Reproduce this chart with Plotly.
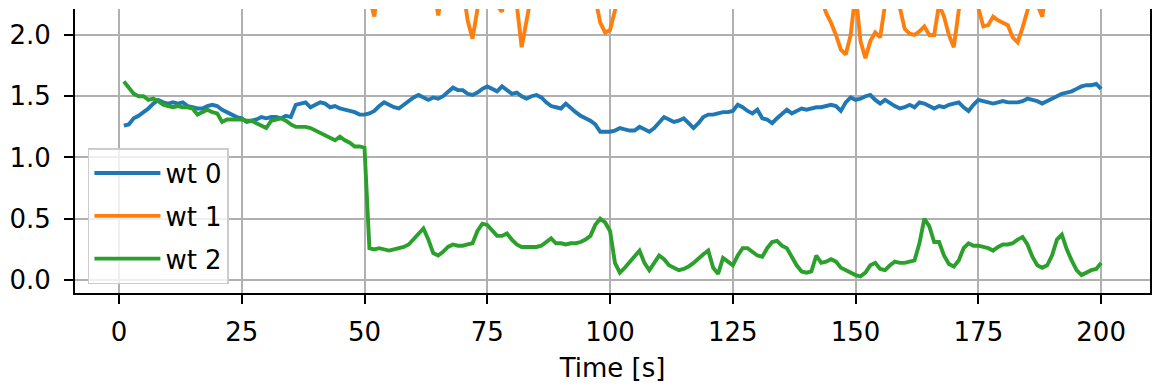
import plotly.graph_objects as go

time_s = list(range(1, 201))

wt0 = [1.26, 1.27, 1.32, 1.34, 1.37, 1.40, 1.44, 1.47, 1.45, 1.44,
       1.45, 1.44, 1.45, 1.42, 1.41, 1.40, 1.40, 1.42, 1.43, 1.42,
       1.39, 1.37, 1.35, 1.33, 1.32, 1.29, 1.30, 1.31, 1.33, 1.32,
       1.33, 1.33, 1.32, 1.34, 1.33, 1.43, 1.44, 1.45, 1.41, 1.43,
       1.45, 1.44, 1.41, 1.42, 1.40, 1.39, 1.38, 1.37, 1.35, 1.35,
       1.36, 1.38, 1.42, 1.45, 1.43, 1.41, 1.40, 1.43, 1.46, 1.49,
       1.51, 1.49, 1.47, 1.49, 1.48, 1.50, 1.54, 1.57, 1.55, 1.55,
       1.52, 1.51, 1.53, 1.56, 1.58, 1.56, 1.54, 1.58, 1.55, 1.52,
       1.53, 1.50, 1.48, 1.50, 1.51, 1.49, 1.45, 1.42, 1.41, 1.40,
       1.44, 1.40, 1.37, 1.34, 1.32, 1.30, 1.27, 1.21, 1.21, 1.21,
       1.22, 1.24, 1.23, 1.22, 1.22, 1.25, 1.23, 1.21, 1.24, 1.28,
       1.33, 1.31, 1.29, 1.30, 1.32, 1.28, 1.24, 1.28, 1.33, 1.35,
       1.35, 1.36, 1.37, 1.37, 1.38, 1.43, 1.41, 1.38, 1.36, 1.39,
       1.32, 1.31, 1.28, 1.32, 1.36, 1.39, 1.36, 1.38, 1.40, 1.39,
       1.40, 1.41, 1.41, 1.42, 1.43, 1.42, 1.38, 1.45, 1.49, 1.47,
       1.48, 1.50, 1.51, 1.47, 1.44, 1.47, 1.44, 1.42, 1.40, 1.41,
       1.43, 1.41, 1.45, 1.44, 1.42, 1.40, 1.42, 1.41, 1.43, 1.44,
       1.45, 1.41, 1.38, 1.43, 1.47, 1.46, 1.45, 1.44, 1.45, 1.46,
       1.45, 1.45, 1.45, 1.46, 1.48, 1.47, 1.46, 1.44, 1.46, 1.48,
       1.50, 1.52, 1.53, 1.54, 1.56, 1.58, 1.59, 1.59, 1.60, 1.56]

wt1 = [2.62, 2.58, 2.71, 2.66, 2.55, 2.60, 2.74, 2.69, 2.57, 2.63,
       2.70, 2.61, 2.54, 2.66, 2.72, 2.59, 2.64, 2.68, 2.56, 2.61,
       2.73, 2.65, 2.58, 2.62, 2.69, 2.60, 2.55, 2.67, 2.71, 2.63,
       2.57, 2.64, 2.70, 2.59, 2.62, 2.68, 2.56, 2.61, 2.66, 2.60,
       2.54, 2.63, 2.69, 2.58, 2.52, 2.60, 2.55, 2.48, 2.45, 2.38,
       2.30, 2.15, 2.50, 2.62, 2.48, 2.55, 2.60, 2.44, 2.52, 2.47,
       2.58, 2.42, 2.36, 2.45, 2.16, 2.40, 2.56, 2.62, 2.48, 2.40,
       2.12, 1.97, 2.20, 2.45, 2.52, 2.38, 2.24, 2.19, 2.42, 2.38,
       2.25, 1.90, 2.15, 2.40, 2.55, 2.62, 2.50, 2.46, 2.58, 2.52,
       2.44, 2.56, 2.60, 2.49, 2.42, 2.35, 2.30, 2.10, 2.02, 2.04,
       2.20, 2.45, 2.58, 2.66, 2.55, 2.61, 2.70, 2.57, 2.63, 2.59,
       2.68, 2.54, 2.62, 2.71, 2.60, 2.56, 2.65, 2.58, 2.52, 2.61,
       2.66, 2.55, 2.60, 2.69, 2.57, 2.63, 2.58, 2.52, 2.60, 2.55,
       2.62, 2.48, 2.56, 2.60, 2.51, 2.45, 2.54, 2.49, 2.42, 2.50,
       2.46, 2.38, 2.30, 2.18, 2.10, 2.00, 1.88, 1.84, 2.00, 2.35,
       1.95, 1.81, 1.95, 2.02, 1.98, 2.25, 2.50, 2.40, 2.22, 2.05,
       2.01, 2.00, 2.03, 2.07, 2.00, 2.00, 2.25, 2.15, 2.00, 1.90,
       2.20, 2.50, 2.48, 2.40, 2.22, 2.07, 2.08, 2.15, 2.12, 2.10,
       2.08, 1.98, 1.94, 2.06, 2.20, 2.40, 2.25, 2.15, 2.40, 2.52,
       2.46, 2.55, 2.60, 2.50, 2.58, 2.62, 2.54, 2.60, 2.57, 2.63]

wt2 = [1.62, 1.57, 1.52, 1.50, 1.50, 1.47, 1.48, 1.46, 1.43, 1.42,
       1.41, 1.42, 1.41, 1.41, 1.40, 1.35, 1.37, 1.39, 1.37, 1.36,
       1.29, 1.31, 1.31, 1.31, 1.31, 1.30, 1.30, 1.28, 1.26, 1.24,
       1.30, 1.31, 1.32, 1.30, 1.27, 1.25, 1.25, 1.25, 1.24, 1.22,
       1.20, 1.18, 1.16, 1.14, 1.17, 1.14, 1.12, 1.09, 1.09, 1.08,
       0.26, 0.25, 0.26, 0.25, 0.24, 0.25, 0.26, 0.27, 0.29, 0.33,
       0.38, 0.42, 0.33, 0.22, 0.20, 0.23, 0.27, 0.29, 0.28, 0.28,
       0.29, 0.30, 0.40, 0.46, 0.45, 0.40, 0.36, 0.36, 0.38, 0.33,
       0.29, 0.27, 0.27, 0.27, 0.27, 0.28, 0.31, 0.34, 0.30, 0.30,
       0.29, 0.30, 0.30, 0.31, 0.33, 0.36, 0.45, 0.50, 0.47, 0.40,
       0.14, 0.06, 0.10, 0.15, 0.20, 0.24, 0.14, 0.08, 0.14, 0.20,
       0.17, 0.12, 0.10, 0.08, 0.09, 0.11, 0.14, 0.18, 0.21, 0.24,
       0.10, 0.05, 0.18, 0.15, 0.12, 0.20, 0.26, 0.26, 0.23, 0.20,
       0.19, 0.26, 0.31, 0.32, 0.28, 0.26, 0.19, 0.12, 0.07, 0.06,
       0.07, 0.20, 0.14, 0.15, 0.17, 0.15, 0.10, 0.08, 0.06, 0.04,
       0.03, 0.06, 0.12, 0.14, 0.09, 0.08, 0.12, 0.15, 0.14, 0.14,
       0.15, 0.16, 0.30, 0.50, 0.44, 0.31, 0.31, 0.20, 0.13, 0.11,
       0.16, 0.26, 0.30, 0.28, 0.28, 0.27, 0.26, 0.24, 0.27, 0.29,
       0.29, 0.30, 0.33, 0.35, 0.29, 0.19, 0.12, 0.10, 0.12, 0.20,
       0.33, 0.37, 0.25, 0.16, 0.08, 0.04, 0.06, 0.08, 0.09, 0.14]

series_names = ["wt 0", "wt 1", "wt 2"]
series_values = [wt0, wt1, wt2]
colors = ["#1f77b4", "#ff7f0e", "#2ca02c"]

x_ticks = [0, 25, 50, 75, 100, 125, 150, 175, 200]
y_ticks = [0.0, 0.5, 1.0, 1.5, 2.0]
y_tick_labels = ["0.0", "0.5", "1.0", "1.5", "2.0"]

FONT = "DejaVu Sans"
FS = 26

fig = go.Figure()
for name, vals, col in zip(series_names, series_values, colors):
    fig.add_trace(go.Scatter(
        x=time_s, y=vals, mode="lines", name=name, legendgroup=name,
        line=dict(color=col, width=3.9),
    ))

axis_common = dict(
    showgrid=True, gridcolor="#b0b0b0", gridwidth=2,
    zeroline=False, showline=True, linecolor="black", linewidth=2,
    ticks="outside", ticklen=9, tickwidth=2, tickcolor="black",
    tickfont=dict(family=FONT, size=FS, color="black"),
)

fig.update_layout(
    width=1155, height=389,
    margin=dict(l=75, r=3, t=9, b=96),
    paper_bgcolor="white", plot_bgcolor="white",
    font=dict(family=FONT, size=FS, color="black"),
    showlegend=True,
    legend=dict(
        x=0.012, y=0.51, xanchor="left", yanchor="top",
        bgcolor="rgba(255,255,255,0.8)", bordercolor="#cccccc", borderwidth=1.5,
        font=dict(family=FONT, size=FS, color="black"),
        tracegroupgap=6, itemwidth=66,
    ),
    xaxis=dict(
        range=[-8.95, 209.95], tickvals=x_ticks,
        title=dict(text="Time [s]", font=dict(family=FONT, size=FS, color="black"), standoff=13),
        ticklabelstandoff=6,
        **axis_common,
    ),
    yaxis=dict(
        range=[-0.106, 2.212], tickvals=y_ticks, ticktext=y_tick_labels,
        mirror=True, ticklabelstandoff=8,
        **axis_common,
    ),
)

fig.write_html("out.html")
